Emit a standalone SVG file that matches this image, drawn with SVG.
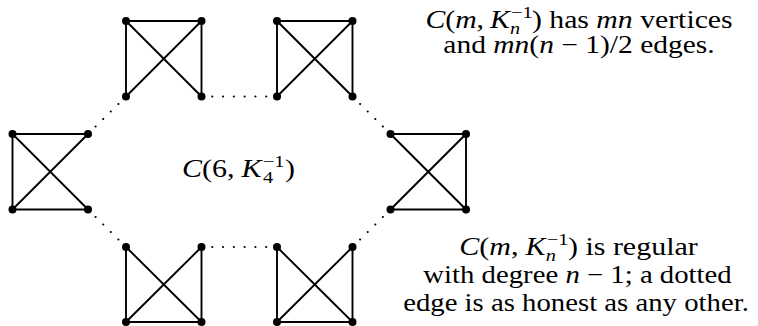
<svg xmlns="http://www.w3.org/2000/svg" width="758" height="326" viewBox="0 0 758 326">
<style>
.e{stroke:#000;stroke-width:1.9;stroke-linecap:round;fill:none}
.d{stroke:#000;stroke-width:2.2;stroke-linecap:round;fill:none}
.v{fill:#000}
.t{font-size:25px;fill:#000}
.i{font-style:italic}
.s{font-size:17px}
</style>
<rect width="758" height="326" fill="#fff"/>
<g id="connectors">
<g id="solid-edges">
<line class="e" x1="126" y1="21" x2="201.5" y2="21"/>
<line class="e" x1="126" y1="21" x2="126" y2="96.5"/>
<line class="e" x1="201.5" y1="21" x2="201.5" y2="96.5"/>
<line class="e" x1="126" y1="21" x2="201.5" y2="96.5"/>
<line class="e" x1="201.5" y1="21" x2="126" y2="96.5"/>
<line class="e" x1="277" y1="21" x2="352.5" y2="21"/>
<line class="e" x1="277" y1="21" x2="277" y2="96.5"/>
<line class="e" x1="352.5" y1="21" x2="352.5" y2="96.5"/>
<line class="e" x1="277" y1="21" x2="352.5" y2="96.5"/>
<line class="e" x1="352.5" y1="21" x2="277" y2="96.5"/>
<line class="e" x1="12.5" y1="134" x2="88" y2="134"/>
<line class="e" x1="12.5" y1="209.5" x2="88" y2="209.5"/>
<line class="e" x1="12.5" y1="134" x2="12.5" y2="209.5"/>
<line class="e" x1="12.5" y1="134" x2="88" y2="209.5"/>
<line class="e" x1="88" y1="134" x2="12.5" y2="209.5"/>
<line class="e" x1="390.5" y1="134" x2="466" y2="134"/>
<line class="e" x1="390.5" y1="209.5" x2="466" y2="209.5"/>
<line class="e" x1="466" y1="134" x2="466" y2="209.5"/>
<line class="e" x1="390.5" y1="134" x2="466" y2="209.5"/>
<line class="e" x1="466" y1="134" x2="390.5" y2="209.5"/>
<line class="e" x1="126" y1="322" x2="201.5" y2="322"/>
<line class="e" x1="126" y1="247" x2="126" y2="322"/>
<line class="e" x1="201.5" y1="247" x2="201.5" y2="322"/>
<line class="e" x1="126" y1="247" x2="201.5" y2="322"/>
<line class="e" x1="201.5" y1="247" x2="126" y2="322"/>
<line class="e" x1="277" y1="322" x2="352.5" y2="322"/>
<line class="e" x1="277" y1="247" x2="277" y2="322"/>
<line class="e" x1="352.5" y1="247" x2="352.5" y2="322"/>
<line class="e" x1="277" y1="247" x2="352.5" y2="322"/>
<line class="e" x1="352.5" y1="247" x2="277" y2="322"/>
</g>
<g id="dotted-edges">
<line class="d" x1="201.5" y1="96.5" x2="277" y2="96.5" stroke-dasharray="0 10.786"/>
<line class="d" x1="201.5" y1="247" x2="277" y2="247" stroke-dasharray="0 10.786"/>
<line class="d" x1="126" y1="96.5" x2="88" y2="134" stroke-dasharray="0 10.68"/>
<line class="d" x1="352.5" y1="96.5" x2="390.5" y2="134" stroke-dasharray="0 10.68"/>
<line class="d" x1="88" y1="209.5" x2="126" y2="247" stroke-dasharray="0 10.68"/>
<line class="d" x1="390.5" y1="209.5" x2="352.5" y2="247" stroke-dasharray="0 10.68"/>
</g>
</g>
<g id="cluster-TL">
<g id="v1"><circle class="v" cx="126" cy="21" r="4"/></g>
<g id="v2"><circle class="v" cx="201.5" cy="21" r="4"/></g>
<g id="v3"><circle class="v" cx="126" cy="96.5" r="4"/></g>
<g id="v4"><circle class="v" cx="201.5" cy="96.5" r="4"/></g>
</g>
<g id="cluster-TR">
<g id="v5"><circle class="v" cx="277" cy="21" r="4"/></g>
<g id="v6"><circle class="v" cx="352.5" cy="21" r="4"/></g>
<g id="v7"><circle class="v" cx="277" cy="96.5" r="4"/></g>
<g id="v8"><circle class="v" cx="352.5" cy="96.5" r="4"/></g>
</g>
<g id="cluster-L">
<g id="v9"><circle class="v" cx="12.5" cy="134" r="4"/></g>
<g id="v10"><circle class="v" cx="88" cy="134" r="4"/></g>
<g id="v11"><circle class="v" cx="12.5" cy="209.5" r="4"/></g>
<g id="v12"><circle class="v" cx="88" cy="209.5" r="4"/></g>
</g>
<g id="cluster-R">
<g id="v13"><circle class="v" cx="390.5" cy="134" r="4"/></g>
<g id="v14"><circle class="v" cx="466" cy="134" r="4"/></g>
<g id="v15"><circle class="v" cx="390.5" cy="209.5" r="4"/></g>
<g id="v16"><circle class="v" cx="466" cy="209.5" r="4"/></g>
</g>
<g id="cluster-BL">
<g id="v17"><circle class="v" cx="126" cy="247" r="4"/></g>
<g id="v18"><circle class="v" cx="201.5" cy="247" r="4"/></g>
<g id="v19"><circle class="v" cx="126" cy="322" r="4"/></g>
<g id="v20"><circle class="v" cx="201.5" cy="322" r="4"/></g>
</g>
<g id="cluster-BR">
<g id="v21"><circle class="v" cx="277" cy="247" r="4"/></g>
<g id="v22"><circle class="v" cx="352.5" cy="247" r="4"/></g>
<g id="v23"><circle class="v" cx="277" cy="322" r="4"/></g>
<g id="v24"><circle class="v" cx="352.5" cy="322" r="4"/></g>
</g>
<g id="labels">
<text class="t" font-family="Liberation Serif, serif" transform="translate(238.5,177) scale(1.2,1)" text-anchor="middle"><tspan class="i">C</tspan>(6,<tspan class="i" dx="6">K</tspan><tspan class="s" dx="1" dy="-10">−1</tspan><tspan class="s" dx="-18" dy="16">4</tspan><tspan dx="10" dy="-6">)</tspan></text>
<text class="t" font-family="Liberation Serif, serif" transform="translate(579,28) scale(1.19,1)" text-anchor="middle"><tspan class="i">C</tspan>(<tspan class="i">m</tspan>,<tspan class="i" dx="5">K</tspan><tspan class="s" dx="1" dy="-10">−1</tspan><tspan class="s i" dx="-19" dy="16">n</tspan><tspan dx="10" dy="-6">) has </tspan><tspan class="i">mn</tspan> vertices</text>
<text class="t" font-family="Liberation Serif, serif" transform="translate(579,53) scale(1.18,1)" text-anchor="middle">and <tspan class="i">mn</tspan>(<tspan class="i">n</tspan> − 1)/2 edges.</text>
<text class="t" font-family="Liberation Serif, serif" transform="translate(578.5,255) scale(1.2,1)" text-anchor="middle"><tspan class="i">C</tspan>(<tspan class="i">m</tspan>,<tspan class="i" dx="6">K</tspan><tspan class="s" dx="1" dy="-10">−1</tspan><tspan class="s i" dx="-19" dy="16">n</tspan><tspan dx="10" dy="-6">) is regular</tspan></text>
<text class="t" font-family="Liberation Serif, serif" transform="translate(577.5,283) scale(1.15,1)" text-anchor="middle">with degree <tspan class="i">n</tspan> − 1; a dotted</text>
<text class="t" font-family="Liberation Serif, serif" transform="translate(576,311) scale(1.15,1)" text-anchor="middle">edge is as honest as any other.</text>
</g>
</svg>
